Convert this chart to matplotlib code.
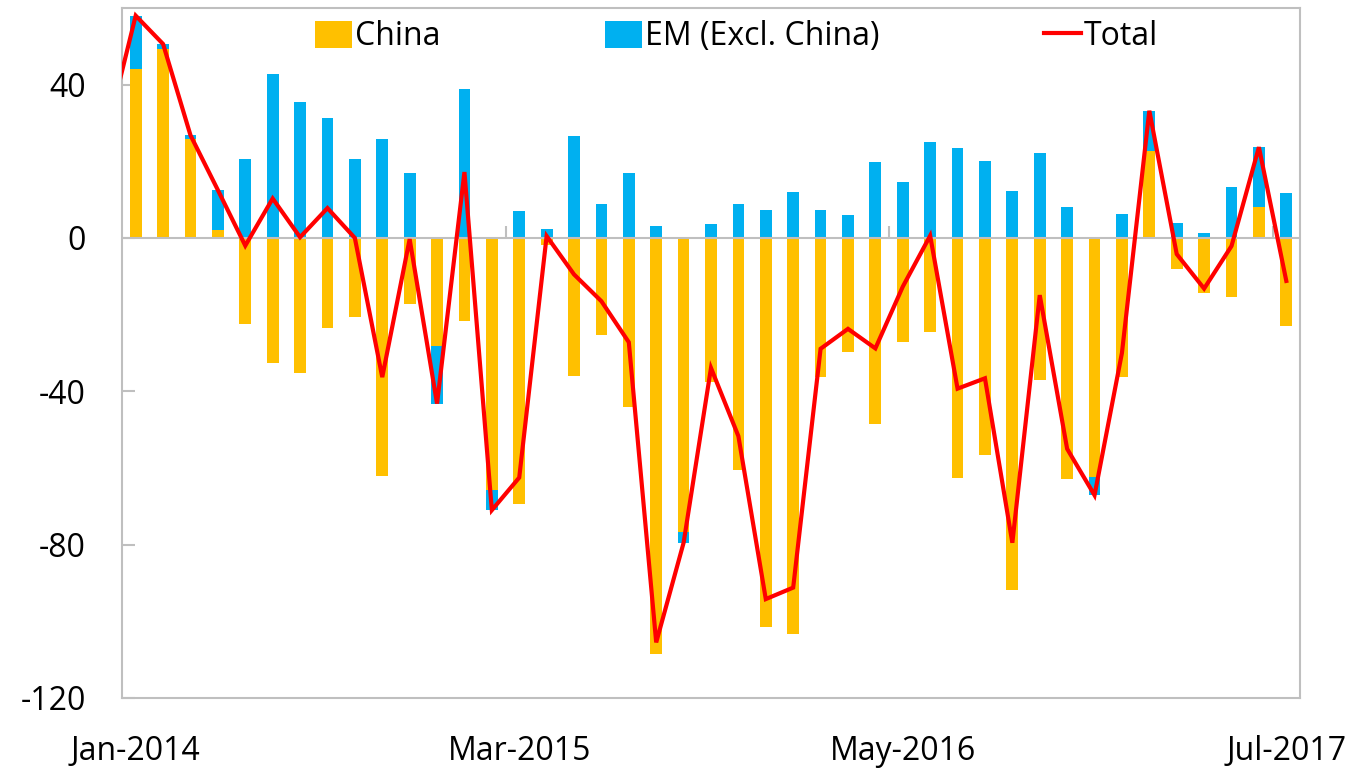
import matplotlib
matplotlib.use("Agg")
import matplotlib.pyplot as plt
import numpy as np
import pandas as pd

plt.rcParams['font.family'] = ['Open Sans', 'DejaVu Sans']
plt.rcParams['axes.unicode_minus'] = False

months = pd.date_range('2014-01-01', periods=43, freq='MS').strftime('%b-%Y').tolist()

china = [44.0, 49.3, 25.8, 2.1, -22.5, -32.5, -35.2, -23.6, -20.5, -62.1,
         -17.2, -28.1, -21.6, -65.8, -69.5, -1.8, -36.0, -25.4, -44.2, -108.5,
         -76.7, -37.5, -60.6, -101.5, -103.2, -36.2, -29.8, -48.5, -27.2, -24.4,
         -62.7, -56.6, -91.8, -37.1, -63.0, -62.3, -36.2, 22.7, -8.1, -14.4,
         -15.3, 8.0, -22.9]
em = [14.0, 1.3, 1.0, 10.4, 20.5, 42.8, 35.4, 31.4, 20.5, 25.8,
      16.9, -15.1, 38.8, -5.2, 7.0, 2.3, 26.5, 8.9, 17.0, 3.0,
      -2.8, 3.6, 8.9, 7.3, 12.0, 7.3, 6.1, 19.7, 14.5, 25.0,
      23.4, 20.0, 12.3, 22.2, 8.0, -4.8, 6.2, 10.5, 3.9, 1.2,
      13.2, 15.7, 11.7]
# Dec-2013 total, only the stub of the line shows at the left edge
total_dec2013 = 29.0

china = np.array(china)
em = np.array(em)
total = np.concatenate([[total_dec2013], china + em])

gold = '#FFC000'
blue = '#00B0F0'
red = '#FF0000'
grey = '#BFBFBF'

fig = plt.figure(figsize=(13.54, 7.7), dpi=100)
ax = fig.add_axes([122/1354, 1-698/770, 1178/1354, 690/770])

x = np.arange(len(months))
em_bottom = np.where(em >= 0, np.maximum(china, 0), np.minimum(china, 0))
b1 = ax.bar(x, china, width=0.43, color=gold, label='China', zorder=2)
b2 = ax.bar(x, em, width=0.43, bottom=em_bottom, color=blue, label='EM (Excl. China)', zorder=2)
ax.axhline(0, color=grey, lw=1.5, zorder=2.5)
ticks = np.arange(-0.5, len(months), 14)[1:]
ax.vlines(ticks, 0, 3, color=grey, lw=1.5, zorder=2.5)
l1, = ax.plot(np.arange(-1, len(months)), total, color=red, lw=3, label='Total', zorder=3,
              solid_joinstyle='miter')

ax.set_xlim(-0.5, len(months) - 0.5)
ax.set_ylim(-120, 60)
ax.set_yticks([-120, -80, -40, 0, 40])
ax.set_xticks(x[::14])
ax.set_xticklabels(months[::14])

for s in ax.spines.values():
    s.set_color(grey)
    s.set_linewidth(1.5)
ax.tick_params(axis='y', direction='in', length=9, width=1.5, color=grey,
               labelsize=23, pad=26)
ax.tick_params(axis='x', length=0, labelsize=23, pad=27)

ax.legend(handles=[b1, b2, l1], loc='center', bbox_to_anchor=(0.5217, 0.958), ncol=3,
          frameon=False, fontsize=23, handlelength=1.15, handleheight=0.9,
          handletextpad=0.1, columnspacing=5.15)

fig.savefig('out.png', dpi=100)
